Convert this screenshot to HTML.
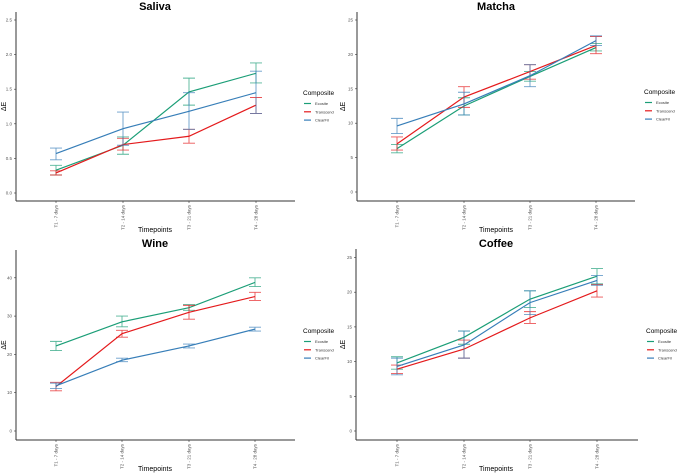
<!DOCTYPE html>
<html><head><meta charset="utf-8">
<style>
html,body{margin:0;padding:0;background:#fff;}
svg{display:block;font-family:"Liberation Sans",sans-serif;}
</style></head>
<body>
<svg id="fig" width="678" height="474" viewBox="0 0 678 474" xmlns="http://www.w3.org/2000/svg"></svg>
<script>
const categories = ["T1 - 7 days","T2 - 14 days","T3 - 21 days","T4 - 28 days"];
const seriesNames = ["Ecosite","Transcend","ClearFil"];

const salivaEco = [0.33,0.69,1.46,1.73];
const salivaEcoLo = [0.26,0.56,1.27,1.59];
const salivaEcoHi = [0.40,0.81,1.66,1.88];
const salivaTra = [0.29,0.70,0.82,1.27];
const salivaTraLo = [0.26,0.62,0.72,1.15];
const salivaTraHi = [0.32,0.79,0.92,1.38];
const salivaCle = [0.57,0.93,1.18,1.45];
const salivaCleLo = [0.48,0.69,0.92,1.15];
const salivaCleHi = [0.65,1.17,1.45,1.76];
const salivaTicks = ["0.0","0.5","1.0","1.5","2.0","2.5"];

const matchaEco = [6.3,12.5,16.8,21.0];
const matchaEcoLo = [5.7,11.2,16.1,20.5];
const matchaEcoHi = [6.9,13.7,17.5,21.6];
const matchaTra = [7.0,13.8,17.5,21.3];
const matchaTraLo = [6.1,12.3,16.4,20.1];
const matchaTraHi = [8.0,15.3,18.5,22.6];
const matchaCle = [9.6,12.8,16.9,22.0];
const matchaCleLo = [8.5,11.2,15.3,21.3];
const matchaCleHi = [10.7,14.5,18.5,22.7];
const matchaTicks = ["0","5","10","15","20","25"];

const wineEco = [22.2,28.5,32.2,38.8];
const wineEcoLo = [21.0,27.2,31.5,37.7];
const wineEcoHi = [23.4,30.0,33.0,40.0];
const wineTra = [11.6,25.4,31.0,35.1];
const wineTraLo = [10.5,24.5,29.2,34.1];
const wineTraHi = [12.7,26.3,32.8,36.2];
const wineCle = [11.8,18.5,22.2,26.6];
const wineCleLo = [11.1,18.1,21.7,26.1];
const wineCleHi = [12.5,19.0,22.7,27.1];
const wineTicks = ["0","10","20","30","40"];

const coffeeEco = [9.8,13.5,19.0,22.3];
const coffeeEcoLo = [8.9,12.5,17.8,21.2];
const coffeeEcoHi = [10.7,14.4,20.2,23.4];
const coffeeTra = [8.9,11.8,16.3,20.2];
const coffeeTraLo = [8.3,10.5,15.5,19.3];
const coffeeTraHi = [9.5,13.1,17.2,21.1];
const coffeeCle = [9.3,12.4,18.5,21.7];
const coffeeCleLo = [8.1,10.5,16.8,21.0];
const coffeeCleHi = [10.5,14.4,20.2,22.4];
const coffeeTicks = ["0","5","10","15","20","25"];

const colors = ["#1b9e77","#e41a1c","#377eb8"];
const NS = "http://www.w3.org/2000/svg";
const fig = document.getElementById("fig");

function mk(parent, tag, attrs, txt){
  const e = document.createElementNS(NS, tag);
  for (const k in attrs) e.setAttribute(k, attrs[k]);
  if (txt !== undefined) e.textContent = txt;
  parent.appendChild(e);
  return e;
}

function panel(id, title, ox, oy, cfg, series, ticks){
  const g = mk(fig, "g", {});
  
  
  const yv = v => cfg.y0 - (v / cfg.tickStep) * cfg.tickPx;
  const xv = i => cfg.xs[i];
  const t = mk(g, "text", {x: cfg.tx, y: oy + 10, "font-size": 11, "font-weight": "bold", "text-anchor": "middle", fill: "#000"}, title);
  
  
  const ya = mk(g, "line", {x1: cfg.ax, y1: cfg.top, x2: cfg.ax, y2: cfg.xaY, stroke: "#333", "stroke-width": 1});
  
  
  const xa = mk(g, "line", {x1: cfg.ax, y1: cfg.xaY, x2: cfg.right, y2: cfg.xaY, stroke: "#333", "stroke-width": 1});
  
  
  ticks.forEach((lab, i) => {
    const y = cfg.y0 - i * cfg.tickPx;
    mk(g, "line", {x1: cfg.ax - 2, y1: y, x2: cfg.ax, y2: y, stroke: "#333", "stroke-width": 0.6});
    const tl = mk(g, "text", {x: cfg.ax - 4, y: y + 1.5, "font-size": 4.5, "text-anchor": "end", fill: "#555"}, lab);
    
    
  });
  categories.forEach((c, i) => {
    const x = xv(i);
    mk(g, "line", {x1: x, y1: cfg.xaY, x2: x, y2: cfg.xaY + 2, stroke: "#333", "stroke-width": 0.6});
    const tl = mk(g, "text", {x: 0, y: 0, "font-size": 4.5, "text-anchor": "end", fill: "#555",
      transform: `translate(${x + 1.5},${cfg.xaY + 4}) rotate(-90)`}, c);
    
    
  });
  const xt = mk(g, "text", {x: cfg.tx, y: cfg.xaY + 31, "font-size": 7, "text-anchor": "middle", fill: "#000"}, "Timepoints");
  
  
  const yt = mk(g, "text", {x: 0, y: 0, "font-size": 7, "text-anchor": "middle", fill: "#000",
    transform: `translate(${ox + 6},${(cfg.top + cfg.xaY) / 2}) rotate(-90)`}, "ΔE");
  
  
  series.forEach((s, si) => {
    const col = colors[si];
    const sg = mk(g, "g", {});
    
    
    s.lo.forEach((lo, i) => {
      const x = xv(i), y1 = yv(lo), y2 = yv(s.hi[i]);
      const eb = mk(sg, "path", {d: `M${x},${y1}V${y2}M${x-6},${y1}H${x+6}M${x-6},${y2}H${x+6}`, stroke: col, "stroke-width": 0.9, fill: "none", opacity: 0.75});
      
      
    });
    const pts = s.v.map((v, i) => `${xv(i)},${yv(v)}`).join(" ");
    const pl = mk(sg, "polyline", {points: pts, stroke: col, "stroke-width": 1.2, fill: "none"});
    
    
  });
  const lg = mk(g, "g", {});
  
  
  mk(lg, "text", {x: cfg.lx, y: cfg.ly, "font-size": 6.5, fill: "#000"}, "Composite");
  seriesNames.forEach((n, i) => {
    const y = cfg.ly + 8.5 + i * 8.3;
    mk(lg, "line", {x1: cfg.lx + 1, y1: y, x2: cfg.lx + 8, y2: y, stroke: colors[i], "stroke-width": 1.2});
    const le = mk(lg, "text", {x: cfg.lx + 12, y: y + 1.5, "font-size": 4, fill: "#333"}, n);
    
    
  });
}

panel("saliva", "Saliva", 0, 0,
  {y0: 193, tickStep: 0.5, tickPx: 34.6, ax: 16, top: 12, xaY: 201, right: 295, xs: [56,123,189,256], tx: 155, lx: 303, ly: 95},
  [{v: salivaEco, lo: salivaEcoLo, hi: salivaEcoHi},
   {v: salivaTra, lo: salivaTraLo, hi: salivaTraHi},
   {v: salivaCle, lo: salivaCleLo, hi: salivaCleHi}], salivaTicks);

panel("matcha", "Matcha", 339, 0,
  {y0: 192, tickStep: 5, tickPx: 34.4, ax: 357, top: 12, xaY: 201, right: 635, xs: [397,464,530,596], tx: 496, lx: 644, ly: 94},
  [{v: matchaEco, lo: matchaEcoLo, hi: matchaEcoHi},
   {v: matchaTra, lo: matchaTraLo, hi: matchaTraHi},
   {v: matchaCle, lo: matchaCleLo, hi: matchaCleHi}], matchaTicks);

panel("wine", "Wine", 0, 237,
  {y0: 431, tickStep: 10, tickPx: 38.3, ax: 16, top: 250, xaY: 440, right: 295, xs: [56,122,189,255], tx: 155, lx: 303, ly: 333},
  [{v: wineEco, lo: wineEcoLo, hi: wineEcoHi},
   {v: wineTra, lo: wineTraLo, hi: wineTraHi},
   {v: wineCle, lo: wineCleLo, hi: wineCleHi}], wineTicks);

panel("coffee", "Coffee", 339, 237,
  {y0: 431, tickStep: 5, tickPx: 34.7, ax: 356, top: 249, xaY: 440, right: 638, xs: [397,464,530,597], tx: 496, lx: 646, ly: 333},
  [{v: coffeeEco, lo: coffeeEcoLo, hi: coffeeEcoHi},
   {v: coffeeTra, lo: coffeeTraLo, hi: coffeeTraHi},
   {v: coffeeCle, lo: coffeeCleLo, hi: coffeeCleHi}], coffeeTicks);
</script>
</body></html>
